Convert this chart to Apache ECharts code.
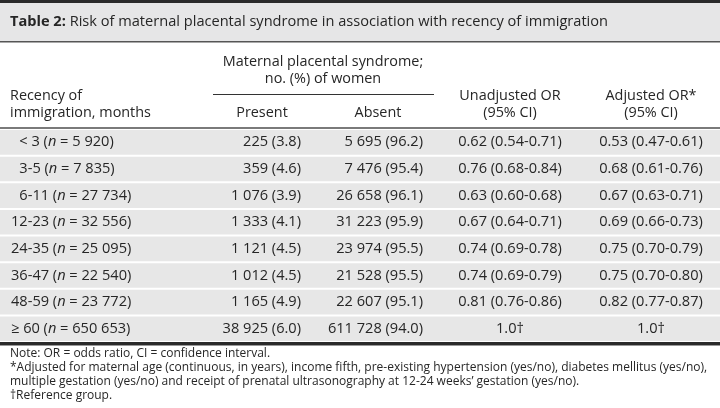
<!DOCTYPE html>
<html><head><meta charset="utf-8">
<script src="https://cdn.jsdelivr.net/npm/echarts@6/dist/echarts.min.js"></script>
<style>html,body{margin:0;padding:0;background:#fff}#c{width:720px;height:408px}</style>
</head><body><div id="c"></div>
<script>
// ---- data ----
var recency = ['\u2007< 3', '\u20073-5', '\u20076-11', '12-23', '24-35', '36-47', '48-59', '\u2265 60'];
var nWomen = [5920, 7835, 27734, 32556, 25095, 22540, 23772, 650653];
var presentN = [225, 359, 1076, 1333, 1121, 1012, 1165, 38925];
var presentPct = [3.8, 4.6, 3.9, 4.1, 4.5, 4.5, 4.9, 6.0];
var absentN = [5695, 7476, 26658, 31223, 23974, 21528, 22607, 611728];
var absentPct = [96.2, 95.4, 96.1, 95.9, 95.5, 95.5, 95.1, 94.0];
var unadjOR = [0.62, 0.76, 0.63, 0.67, 0.74, 0.74, 0.81, 1.0];
var unadjLo = [0.54, 0.68, 0.60, 0.64, 0.69, 0.69, 0.76, null];
var unadjHi = [0.71, 0.84, 0.68, 0.71, 0.78, 0.79, 0.86, null];
var adjOR = [0.53, 0.68, 0.67, 0.69, 0.75, 0.75, 0.82, 1.0];
var adjLo = [0.47, 0.61, 0.63, 0.66, 0.70, 0.70, 0.77, null];
var adjHi = [0.61, 0.76, 0.71, 0.73, 0.79, 0.80, 0.87, null];
var titleBold = 'Table 2:';
var titleText = 'Risk of maternal placental syndrome in association with recency of immigration';
var notes = [
  'Note: OR = odds ratio, CI = confidence interval.',
  '*Adjusted for maternal age (continuous, in years), income fifth, pre-existing hypertension (yes/no), diabetes mellitus (yes/no),',
  'multiple gestation (yes/no) and receipt of prenatal ultrasonography at 12-24 weeks\u2019 gestation (yes/no).',
  '\u2020Reference group.'
];

// ---- formatting ----
function th(n) { return String(n).replace(/\B(?=(\d{3})+(?!\d))/g, ' '); }
function np(n, p) { return th(n) + ' (' + p.toFixed(1) + ')'; }
function orTxt(o, lo, hi) {
  if (lo == null) return o.toFixed(1) + '\u2020';
  return o.toFixed(2) + ' (' + lo.toFixed(2) + '-' + hi.toFixed(2) + ')';
}

// ---- layout ----
var FONT = '"Open Sans", "DejaVu Sans", sans-serif';
var TXT = '#262626';
var bodyFont = '14.6px ' + FONT;
var colX = { label: 11, present: 301, absent: 423, unadj: 510, adj: 651 };

var chart = echarts.init(document.getElementById('c'), null, { renderer: 'canvas' });

function t(x, y, text, align, font, extra) {
  var st = { text: text, x: x, y: y, align: align || 'left', verticalAlign: 'middle', font: font || bodyFont, fill: TXT };
  if (extra) for (var k in extra) st[k] = extra[k];
  return { type: 'text', style: st, silent: true };
}
var hdrFont = '14.4px ' + FONT;
var graphics = [
  { type: 'rect', shape: { x: 0, y: 0, width: 720, height: 3 }, style: { fill: '#2a2a2a' } },
  { type: 'rect', shape: { x: 0, y: 3, width: 720, height: 39 }, style: { fill: '#e6e6e7' } },
  { type: 'rect', shape: { x: 0, y: 41, width: 720, height: 1.5 }, style: { fill: '#555' } },
  t(10, 22, '{b|' + titleBold + '} ' + titleText, 'left', '14.6px ' + FONT,
    { rich: { b: { font: 'bold 14.6px ' + FONT, fill: TXT } } }),
  t(323, 62, 'Maternal placental syndrome;', 'center', hdrFont),
  t(323, 79, 'no. (%) of women', 'center', hdrFont),
  { type: 'rect', shape: { x: 213, y: 94, width: 221, height: 1 }, style: { fill: '#333' } },
  t(10, 96, 'Recency of', 'left', hdrFont),
  t(10, 113, 'immigration, months', 'left', hdrFont),
  t(262, 113, 'Present', 'center', hdrFont),
  t(378, 113, 'Absent', 'center', hdrFont),
  t(510, 96, 'Unadjusted OR', 'center', hdrFont),
  t(510, 113, '(95% CI)', 'center', hdrFont),
  t(651, 96, 'Adjusted OR*', 'center', hdrFont),
  t(651, 113, '(95% CI)', 'center', hdrFont),
  { type: 'rect', shape: { x: 0, y: 127, width: 720, height: 2 }, style: { fill: '#7a7a7a' } },
  { type: 'rect', shape: { x: 0, y: 342, width: 720, height: 3 }, style: { fill: '#2a2a2a' } },
  { type: 'rect', shape: { x: 0, y: 345, width: 720, height: 1 }, style: { fill: '#999' } }
];
notes.forEach(function (s, i) { graphics.push(t(10, 353.5 + i * 14, s, 'left', '12px ' + FONT)); });

var rows = recency.map(function (r, i) { return [0, i]; });

chart.setOption({
  animation: false,
  grid: { left: 0, right: 0, top: 129, height: 213 },
  xAxis: { type: 'value', min: 0, max: 720, show: false },
  yAxis: { type: 'category', data: recency, inverse: true, show: false },
  graphic: graphics,
  series: [{
    type: 'custom',
    encode: { x: 0, y: 1 },
    data: rows,
    renderItem: function (params, api) {
      var i = api.value(1);
      var c = api.coord([0, i]);
      var h = api.size([0, 1])[1];
      var y = c[1];
      var x0 = api.coord([0, i])[0];
      var x1 = api.coord([720, i])[0];
      function cx(v) { return api.coord([v, i])[0]; }
      var base = { verticalAlign: 'middle', font: bodyFont, fill: TXT };
      function tx(x, text, align, rich) {
        var st = { text: text, x: x, y: y, align: align };
        for (var k in base) st[k] = base[k];
        if (rich) st.rich = rich;
        return { type: 'text', style: st };
      }
      return {
        type: 'group',
        children: [
          { type: 'rect', shape: { x: x0, y: y - h / 2 + 1, width: x1 - x0, height: h - 2 }, style: { fill: '#e7e7e7' } },
          tx(cx(colX.label), recency[i] + ' ({it|n} = ' + th(nWomen[i]) + ')', 'left',
            { it: { font: 'italic 14.6px ' + FONT, fill: TXT } }),
          tx(cx(colX.present), np(presentN[i], presentPct[i]), 'right'),
          tx(cx(colX.absent), np(absentN[i], absentPct[i]), 'right'),
          tx(cx(colX.unadj), orTxt(unadjOR[i], unadjLo[i], unadjHi[i]), 'center'),
          tx(cx(colX.adj), orTxt(adjOR[i], adjLo[i], adjHi[i]), 'center')
        ]
      };
    }
  }]
});
</script>
</body></html>
